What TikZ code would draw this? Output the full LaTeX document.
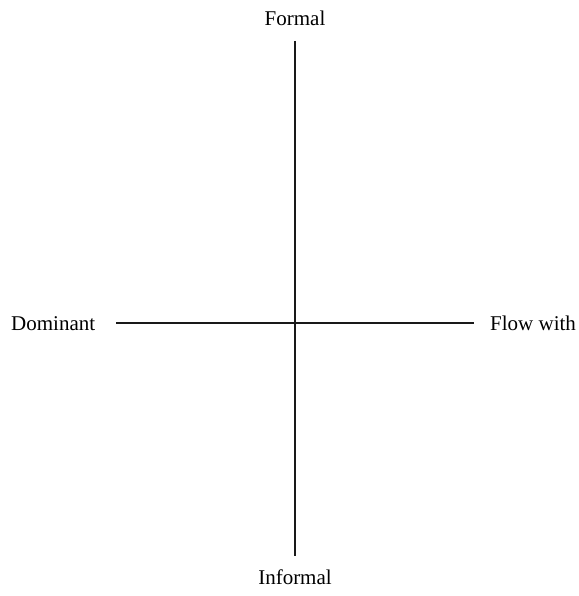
\documentclass[tikz,border=0pt]{standalone}
\usepackage{fontspec}
\setmainfont{Liberation Serif}
\begin{document}
\begin{tikzpicture}[x=1pt,y=-1pt,
  lbl/.style={font=\fontsize{21}{25}\selectfont, inner sep=0pt},
  axis/.style={line width=2.6pt, black!90}]
\useasboundingbox (0,0) rectangle (578,596);
\coordinate (top) at (295,41);
\coordinate (bot) at (295,556);
\coordinate (lft) at (116,323);
\coordinate (rgt) at (474,323);
\draw[axis] (top) -- (bot);
\draw[axis] (lft) -- (rgt);
\node[lbl, anchor=base] (formal) at (295,26) {Formal};
\node[lbl, anchor=base] (informal) at (295,584) {Informal};
\node[lbl, anchor=base west] (dominant) at (11,330) {Dominant};
\node[lbl, anchor=base west] (flow) at (490,330) {Flow with};
\end{tikzpicture}
\end{document}
